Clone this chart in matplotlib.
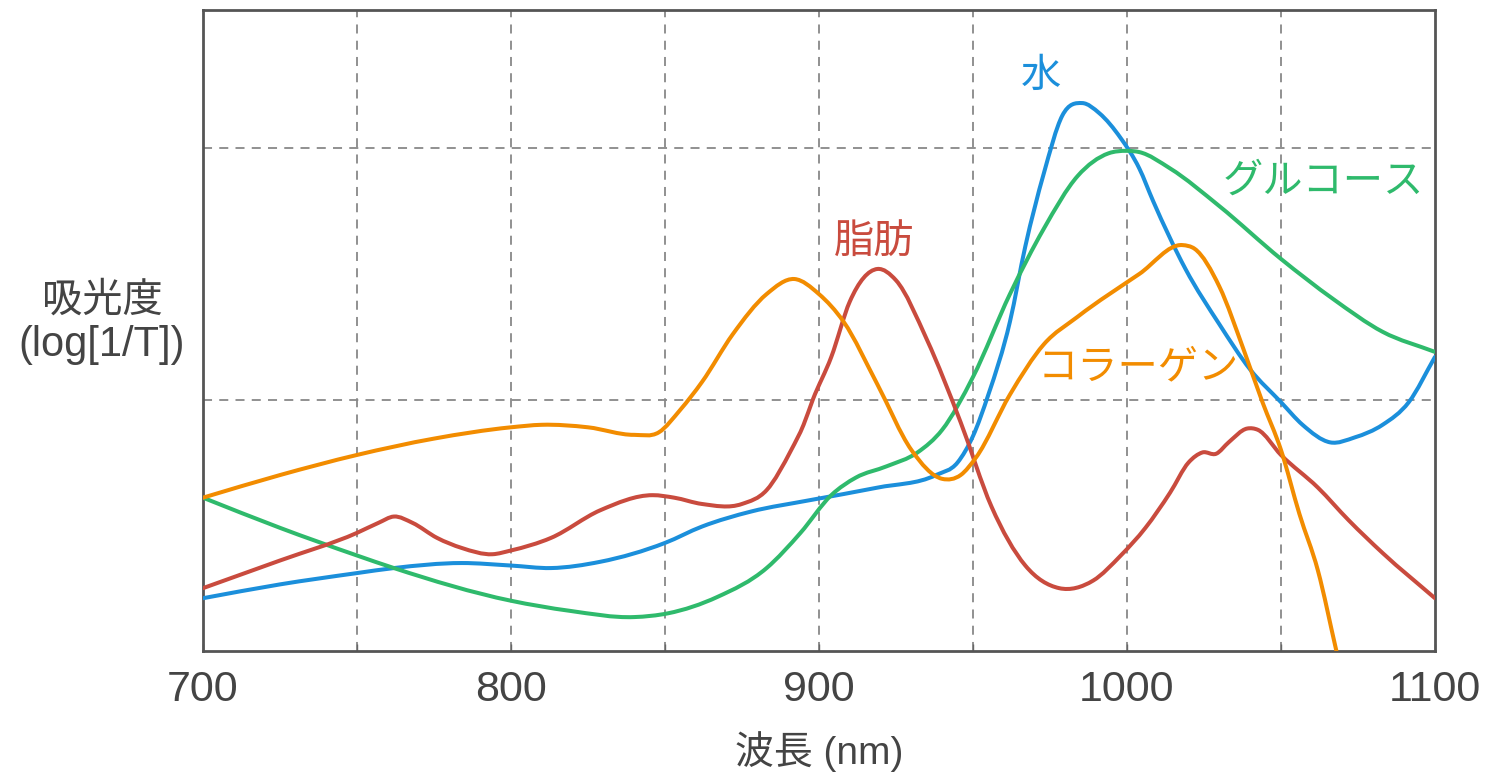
import matplotlib
matplotlib.use("Agg")
from matplotlib import pyplot as plt
from matplotlib.path import Path
from matplotlib.patches import PathPatch
from matplotlib.ticker import MultipleLocator

# wavelength (nm) / absorbance
water_x = [700, 725, 750, 762, 784, 800, 813, 829, 850, 862, 878, 897, 919, 938, 945, 950,
           955, 962, 967, 973, 979, 985.5, 991, 998, 1004, 1008.5, 1019, 1030, 1040, 1050,
           1057, 1066, 1074, 1083, 1091.5, 1100]
water_y = [0.21, 0.265, 0.31, 0.33, 0.35, 0.34, 0.33, 0.355, 0.43, 0.495, 0.555, 0.60, 0.65, 0.70, 0.75, 0.855,
           1.02, 1.31, 1.61, 1.90, 2.13, 2.18, 2.14, 2.04, 1.92, 1.79, 1.52, 1.30, 1.12, 0.99,
           0.90, 0.83, 0.85, 0.90, 0.99, 1.17]

glucose_x = [700, 725, 750, 762, 800, 819, 840, 851, 867, 883, 894, 904, 912, 922, 932, 940,
             950, 962, 973, 984, 994, 1000, 1004, 1014, 1030, 1050, 1067, 1083, 1100]
glucose_y = [0.61, 0.49, 0.38, 0.33, 0.20, 0.16, 0.135, 0.15, 0.215, 0.33, 0.47, 0.62, 0.69, 0.735, 0.79, 0.88,
             1.09, 1.42, 1.68, 1.89, 1.98, 1.99, 1.985, 1.92, 1.77, 1.56, 1.40, 1.27, 1.19]

collagen_x = [700, 725, 750, 775, 800, 810, 825, 840, 848, 855, 862, 872, 883, 892, 900, 908,
              919, 930, 940, 946, 951, 962, 973, 984, 1004, 1018, 1022, 1030, 1038, 1044,
              1050, 1056, 1062, 1068, 1075]
collagen_y = [0.61, 0.70, 0.78, 0.845, 0.89, 0.90, 0.89, 0.86, 0.87, 0.96, 1.07, 1.26, 1.42, 1.48, 1.42, 1.31,
              1.06, 0.80, 0.685, 0.70, 0.77, 1.02, 1.22, 1.33, 1.50, 1.615, 1.60, 1.45, 1.195, 0.99,
              0.80, 0.545, 0.32, 0.0, -0.37]

fat_x = [700, 725, 750, 757, 762, 768, 776, 784, 794, 800, 813, 829, 846, 853, 862, 875,
         883, 891, 895, 898, 904, 910, 919, 925, 935, 946, 956, 967, 978, 989, 998,
         1006, 1014, 1020, 1024.5, 1029, 1033, 1039, 1042.5, 1050, 1062, 1072, 1083, 1100]
fat_y = [0.25, 0.36, 0.47, 0.51, 0.535, 0.51, 0.45, 0.41, 0.385, 0.40, 0.45, 0.56, 0.62, 0.61, 0.585, 0.585,
         0.64, 0.80, 0.90, 1.0, 1.17, 1.39, 1.52, 1.475, 1.24, 0.91, 0.575, 0.34, 0.25, 0.28, 0.38,
         0.49, 0.63, 0.75, 0.79, 0.785, 0.83, 0.885, 0.88, 0.78, 0.65, 0.52, 0.39, 0.21]

xticks = [700, 800, 900, 1000, 1100]

c_water = '#1b8fdb'
c_glucose = '#2fba6c'
c_collagen = '#f28c00'
c_fat = '#c94b3e'
txt = '#444444'

jp = ['Noto Sans CJK JP', 'DejaVu Sans']
lat = ['Liberation Sans', 'Noto Sans CJK JP']


def curve(xs, ys):
	# cubic hermite through the read points, drawn as bezier segments
	n = len(xs)
	d = [(ys[i + 1] - ys[i]) / (xs[i + 1] - xs[i]) for i in range(n - 1)]
	m = [d[0]]
	for i in range(1, n - 1):
		h0 = xs[i] - xs[i - 1]
		h1 = xs[i + 1] - xs[i]
		m.append((d[i - 1] * h1 + d[i] * h0) / (h0 + h1))
	m.append(d[-1])
	verts = [(xs[0], ys[0])]
	codes = [Path.MOVETO]
	for i in range(n - 1):
		h = xs[i + 1] - xs[i]
		verts += [(xs[i] + h / 3, ys[i] + m[i] * h / 3),
				  (xs[i + 1] - h / 3, ys[i + 1] - m[i + 1] * h / 3),
				  (xs[i + 1], ys[i + 1])]
		codes += [Path.CURVE4] * 3
	return Path(verts, codes)


def plot():
	fig = plt.figure(figsize=(14.87, 7.75), dpi=100)
	ax = fig.add_axes([0.1365, 0.16, 0.8285, 0.827])

	for xs, ys, c in [(water_x, water_y, c_water), (glucose_x, glucose_y, c_glucose),
					  (fat_x, fat_y, c_fat), (collagen_x, collagen_y, c_collagen)]:
		ax.add_patch(PathPatch(curve(xs, ys), fill=False, edgecolor=c, lw=2.9,
							   capstyle='round', joinstyle='round', zorder=3))

	ax.set_xlim(700, 1100)
	ax.set_ylim(0, 2.55)

	for gx in [750, 800, 850, 900, 950, 1000, 1050]:
		ax.axvline(gx, color='#888888', lw=1.3, ls=(0, (5, 4)), zorder=1)
	for gy in [1, 2]:
		ax.axhline(gy, color='#888888', lw=1.3, ls=(0, (5, 4)), zorder=1)

	ax.set_xticks(xticks)
	ax.xaxis.set_minor_locator(MultipleLocator(50))
	ax.tick_params(axis='x', which='both', direction='in', length=5, width=1, color='#666666',
				   pad=14, labelsize=31, labelcolor=txt)
	for lab in ax.get_xticklabels():
		lab.set_family('Liberation Sans')
	ax.set_yticks([])
	for s in ax.spines.values():
		s.set_color('#555555')
		s.set_linewidth(2)

	# series labels
	ax.text(972, 2.29, '水', color=c_water, fontsize=29, family=jp, ha='center', va='center')
	ax.text(1031, 1.87, 'グルコース', color=c_glucose, fontsize=29, family=jp, ha='left', va='center')
	ax.text(918, 1.63, '脂肪', color=c_fat, fontsize=29, family=jp, ha='center', va='center')
	ax.text(971, 1.13, 'コラーゲン', color=c_collagen, fontsize=29, family=jp, ha='left', va='center')

	fig.text(102 / 1487, 1 - 300 / 775, '吸光度', color=txt, fontsize=29, family=jp, ha='center', va='center')
	fig.text(102 / 1487, 1 - 345 / 775, '(log[1/T])', color=txt, fontsize=30, family=lat,
			 ha='center', va='center')
	fig.text(819 / 1487, 1 - 752 / 775, '波長 (nm)', color=txt, fontsize=28, family=lat,
			 ha='center', va='center')

	fig.savefig('out.png', dpi=100, facecolor='white')


plot()
